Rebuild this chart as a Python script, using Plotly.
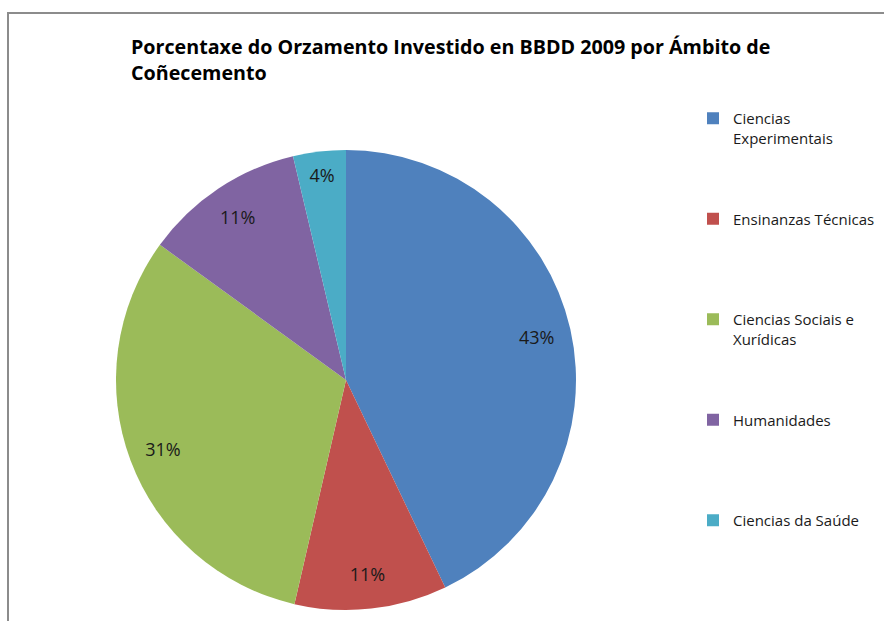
import plotly.graph_objects as go

# slice values (share of budget, %)
ambitos = ["Ciencias<br>Experimentais", "Ensinanzas Técnicas",
           "Ciencias Sociais e<br>Xurídicas", "Humanidades", "Ciencias da Saúde"]
porcentaxe = [42.9, 10.7, 31.4, 11.3, 3.7]
cores = ["#4F81BD", "#C0504D", "#9BBB59", "#8064A2", "#4BACC6"]

W, H = 884, 621
FONT = "Open Sans"

# pad legend labels so items sit ~100px apart like the original
n_lines = [l.count("<br>") + 1 for l in ambitos]
legend_labels = [l + "<br> " * (5 - n) for l, n in zip(ambitos, n_lines)]

dom = dict(x=[116 / W, 576 / W], y=[1 - 610 / H, 1 - 150 / H])

fig = go.Figure()
# coloured pie (no text)
fig.add_trace(go.Pie(
    labels=legend_labels, values=porcentaxe, sort=False,
    direction="clockwise", rotation=0,
    marker=dict(colors=cores, line=dict(width=0)),
    textinfo="none", hoverinfo="skip", domain=dom,
))
# transparent ring on top, only to carry the labels near the rim
fig.add_trace(go.Pie(
    labels=legend_labels, values=porcentaxe, sort=False,
    direction="clockwise", rotation=0, hole=0.70,
    marker=dict(colors=["rgba(0,0,0,0)"] * len(cores), line=dict(width=0)),
    texttemplate="%{percent:.0%}", textposition="inside",
    insidetextorientation="horizontal",
    textfont=dict(family=FONT, size=18, color="#1a1a1a"),
    hoverinfo="skip", showlegend=False, domain=dom,
))

fig.update_layout(
    width=W, height=H,
    margin=dict(l=0, r=0, t=0, b=0),
    paper_bgcolor="white",
    font=dict(family=FONT, color="#1a1a1a"),
    uniformtext=dict(minsize=18, mode="show"),
    title=dict(
        text="<b>Porcentaxe do Orzamento Investido en BBDD 2009 por Ámbito de<br>Coñecemento</b>",
        x=131 / W, xanchor="left", xref="paper",
        y=1 - 54 / H, yanchor="top", yref="paper",
        font=dict(family=FONT, size=19.7, color="#000000"),
    ),
    legend=dict(
        x=693 / W, xanchor="left", y=1 - 102 / H, yanchor="top",
        font=dict(family=FONT, size=15, color="#1a1a1a"),
        valign="top", itemwidth=30, traceorder="normal",
        bgcolor="rgba(0,0,0,0)",
    ),
    showlegend=True,
)

# chart frame (only top and left edges are visible in the crop)
fig.add_shape(type="rect", xref="paper", yref="paper",
              x0=8 / W, x1=1.2, y0=-0.2, y1=1 - 13 / H,
              line=dict(color="#8c8c8c", width=2), fillcolor="rgba(0,0,0,0)")

fig.write_html("out.html", config=dict(displayModeBar=False),
               post_script="document.body.style.margin='0';")
